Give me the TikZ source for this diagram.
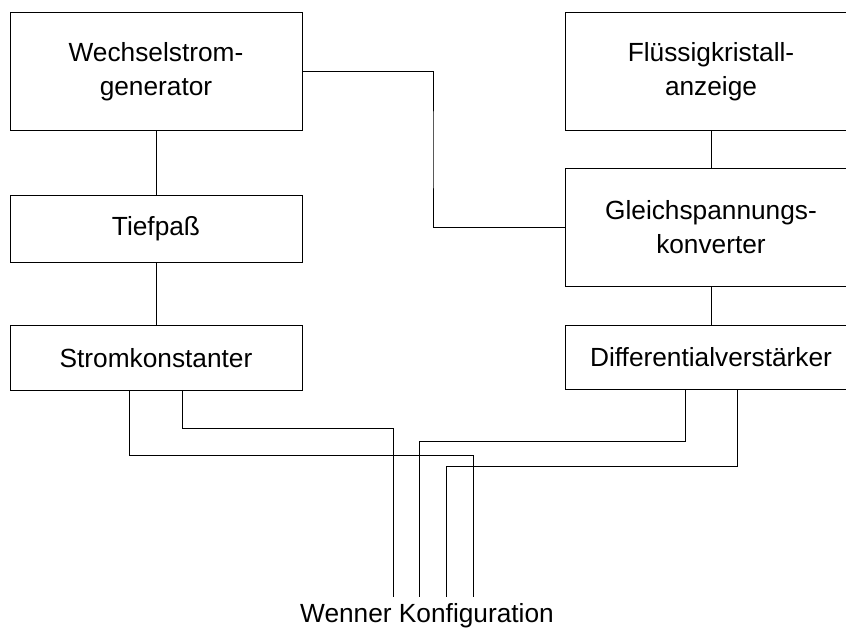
\documentclass[tikz,border=0pt]{standalone}
\usepackage{fontspec}
\setmainfont{Liberation Sans}
\usepackage{tikz}
\usepackage{xcolor}

\begin{document}
\begin{tikzpicture}[x=0.75pt,y=-0.75pt,line width=0.7pt,
  block/.style={draw,minimum width=219pt,align=center,inner sep=0pt,
    font=\fontsize{19.7}{25.5}\selectfont}]
\useasboundingbox (0,0) rectangle (846,635);
\clip (0,0) rectangle (846,635);
% (i) Stromquelle
\node[block,minimum height=88.5pt] (gen) at (156,71.6) {Wechselstrom-\\generator};
\node[block,minimum height=50.25pt] (tp) at (156,228.5) {Tiefpaß};
\node[block,minimum height=48.75pt] (sk) at (156,357.8) {Stromkonstanter};
\draw (gen) -- (tp);
\draw (tp) -- (sk);
% (ii) Messkette
\node[block,minimum height=88pt] (lcd) at (711,71.4) {Flüssigkristall-\\anzeige};
\node[block,minimum height=88.5pt] (conv) at (711,227) {Gleichspannungs-\\konverter};
\node[block,minimum height=48pt] (diff) at (711,357) {Differentialverstärker};
\draw (lcd) -- (conv);
\draw (conv) -- (diff);
\coordinate (bend) at (433,150);
\draw (gen.east) -| (bend) |- (conv.west);
% (iii) Elektroden
\coordinate (w1) at (393,597);
\coordinate (w2) at (419,597);
\coordinate (w3) at (446,597);
\coordinate (w4) at (473,597);
\draw (sk.south) ++(26,0) -- ++(0,38) -| (w1);
\draw (sk.south) ++(-27,0) -- ++(0,65) -| (w4);
\draw (diff.south) ++(-26,0) -- ++(0,52) -| (w2);
\draw (diff.south) ++(26,0) -- ++(0,77) -| (w3);
\node[anchor=base,font=\fontsize{19.7}{25.5}\selectfont] (wenner) at (427,622) {Wenner Konfiguration};
\end{tikzpicture}
\end{document}
